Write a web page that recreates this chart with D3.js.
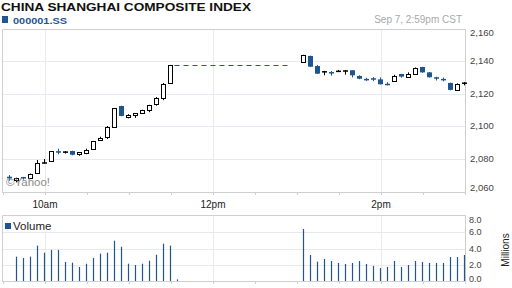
<!DOCTYPE html>
<html>
<head>
<meta charset="utf-8">
<script src="https://cdn.jsdelivr.net/npm/d3@7"></script>
<style>
  html, body { margin: 0; padding: 0; background: #fff; }
  svg { display: block; font-family: "Liberation Sans", Arial, sans-serif; }
</style>
</head>
<body>
<div id="chart"></div>
<script>
// 5-minute candles, China Shanghai Composite, Sep 7
var candleTimes = [
  "09:35","09:40","09:45","09:50","09:55","10:00","10:05","10:10","10:15","10:20","10:25","10:30",
  "10:35","10:40","10:45","10:50","10:55","11:00","11:05","11:10","11:15","11:20","11:25","11:30",
  "13:05","13:10","13:15","13:20","13:25","13:30","13:35","13:40","13:45","13:50","13:55","14:00",
  "14:05","14:10","14:15","14:20","14:25","14:30","14:35","14:40","14:45","14:50","14:55","15:00"
];
var opens = [
  2068.8, 2066.6, 2068.6, 2068.0, 2070.9, 2077.7, 2078.3, 2084.5, 2084.4, 2084.6, 2082.6, 2083.6,
  2085.7, 2091.2, 2093.0, 2099.0, 2112.3, 2105.1, 2106.3, 2107.8, 2109.7, 2113.4, 2117.0, 2126.3,
  2139.2, 2143.1, 2136.9, 2133.8, 2133.2, 2134.1, 2134.3, 2134.3, 2130.8, 2129.0, 2129.4, 2128.7,
  2126.0, 2127.5, 2132.0, 2130.5, 2132.2, 2136.3, 2133.0, 2130.0, 2129.0, 2126.5, 2122.3, 2126.8
];
var highs = [
  2069.8, 2068.2, 2068.7, 2070.7, 2079.1, 2079.7, 2084.6, 2086.0, 2084.5, 2084.8, 2083.9, 2086.0,
  2090.8, 2093.4, 2100.0, 2111.0, 2112.5, 2107.3, 2108.0, 2110.0, 2113.0, 2117.8, 2126.5, 2137.4,
  2143.8, 2143.3, 2137.5, 2133.9, 2133.8, 2134.5, 2134.4, 2134.4, 2131.2, 2129.7, 2130.1, 2129.9,
  2127.0, 2131.5, 2132.1, 2133.0, 2136.0, 2136.4, 2133.2, 2130.3, 2129.8, 2126.7, 2126.2, 2127.0
];
var lows = [
  2066.3, 2065.3, 2067.0, 2067.9, 2070.6, 2076.9, 2078.0, 2082.6, 2083.0, 2082.0, 2081.7, 2082.6,
  2085.5, 2091.0, 2092.0, 2098.8, 2106.0, 2104.7, 2105.0, 2107.6, 2108.5, 2112.5, 2115.9, 2126.0,
  2139.0, 2136.3, 2132.0, 2131.2, 2131.0, 2133.2, 2131.6, 2129.9, 2128.8, 2127.8, 2127.6, 2125.5,
  2125.0, 2127.3, 2129.7, 2130.2, 2131.5, 2132.8, 2129.8, 2128.0, 2127.5, 2122.0, 2122.0, 2125.0
];
var closes = [
  2067.8, 2068.0, 2067.9, 2070.3, 2077.0, 2077.1, 2084.4, 2084.1, 2084.2, 2082.3, 2083.8, 2085.2,
  2090.6, 2092.6, 2099.2, 2110.9, 2106.2, 2106.6, 2107.8, 2109.8, 2112.7, 2117.0, 2125.7, 2137.3,
  2143.7, 2136.5, 2132.2, 2133.1, 2132.9, 2133.4, 2133.6, 2131.2, 2129.1, 2128.8, 2128.7, 2125.7,
  2125.6, 2130.8, 2130.4, 2132.2, 2135.9, 2133.0, 2130.0, 2129.6, 2128.5, 2122.2, 2126.0, 2126.2
];

// volume in millions
var volumeTimes = [
  "09:40","09:45","09:50","09:55","10:00","10:05","10:10","10:15","10:20","10:25","10:30","10:35",
  "10:40","10:45","10:50","10:55","11:00","11:05","11:10","11:15","11:20","11:25","11:30","11:35",
  "13:05","13:10","13:15","13:20","13:25","13:30","13:35","13:40","13:45","13:50","13:55","14:00",
  "14:05","14:10","14:15","14:20","14:25","14:30","14:35","14:40","14:45","14:50","14:55","15:00"
];
var volumes = [
  3.00, 2.83, 3.00, 4.35, 3.49, 3.82, 3.82, 2.34, 2.26, 1.72, 2.13, 2.83,
  3.37, 3.49, 4.96, 4.22, 2.13, 1.97, 2.13, 2.50, 3.24, 4.59, 4.35, 0.20,
  6.40, 3.20, 2.38, 2.71, 2.46, 2.22, 2.09, 2.22, 2.46, 2.09, 1.85, 1.60,
  1.72, 2.46, 1.72, 1.97, 2.46, 2.34, 2.22, 2.22, 2.22, 2.95, 2.95, 3.20
];

var priceTicks = [2060, 2080, 2100, 2120, 2140, 2160];
var volumeTicks = [0, 2, 4, 6, 8];
var timeLabels = ["10am", "12pm", "2pm"];
var timeLabelTimes = ["10:00", "12:00", "14:00"];
var sessionStart = "09:30";
var sessionEnd = "15:00";
var lunchBreakEnd = "12:55";

var title = "CHINA SHANGHAI COMPOSITE INDEX";
var symbol = "000001.SS";
var stamp = "Sep 7, 2:59pm CST";

(function(){

    var width = 512, height = 288;
    var blue = "#1f5590";
    var gridc = "#e6eaef";
    var borderc = "#cfcfcf";

    var parseT = d3.timeParse("%H:%M");
    var fmtPrice = d3.format(",");
    var fmtVol = d3.format(".1f");

    var svg = d3.select("#chart").append("svg")
        .attr("width", width)
        .attr("height", height);

    // scales
    var x = d3.scaleTime()
        .domain([parseT(sessionStart), parseT(sessionEnd)])
        .range([3, 465]);
    var y = d3.scaleLinear().domain([2060, 2160]).range([191, 28.5]);
    var yv = d3.scaleLinear().domain([0, 8]).range([281, 216]);

    var px = function(t) { return Math.round(x(parseT(t)) - 1) + 0.5; };

    // header
    svg.append("text")
        .attr("x", 1).attr("y", 11)
        .attr("font-size", 11).attr("font-weight", "bold")
        .attr("textLength", 250).attr("lengthAdjust", "spacingAndGlyphs")
        .attr("fill", "#111")
        .text(title);
    svg.append("rect")
        .attr("x", 2).attr("y", 16).attr("width", 6).attr("height", 7)
        .attr("fill", blue);
    svg.append("text")
        .attr("x", 13).attr("y", 23.5)
        .attr("font-size", 9.5).attr("font-weight", "bold")
        .attr("textLength", 54).attr("lengthAdjust", "spacingAndGlyphs")
        .attr("fill", blue)
        .text(symbol);
    svg.append("text")
        .attr("x", 462).attr("y", 22.5)
        .attr("text-anchor", "end")
        .attr("font-size", 10).attr("fill", "#a8a8a8")
        .text(stamp);

    // price panel grid
    var pg = svg.append("g");
    pg.selectAll("line.h")
        .data(priceTicks.slice(1, -1))
        .enter().append("line")
        .attr("x1", 2).attr("x2", 465)
        .attr("y1", function(d) { return Math.round(y(d)) + 0.5; })
        .attr("y2", function(d) { return Math.round(y(d)) + 0.5; })
        .attr("stroke", gridc);
    pg.selectAll("line.v")
        .data(timeLabelTimes)
        .enter().append("line")
        .attr("x1", function(d) { return Math.round(x(parseT(d))) + 0.5; })
        .attr("x2", function(d) { return Math.round(x(parseT(d))) + 0.5; })
        .attr("y1", 29).attr("y2", 192)
        .attr("stroke", gridc);

    // frame
    pg.append("path")
        .attr("d", "M2.5,192V29.5H465.5V192")
        .attr("fill", "none").attr("stroke", borderc);

    // bottom time axis
    var axisB = d3.axisBottom(x)
        .ticks(d3.timeMinute.every(30))
        .tickSize(3)
        .tickFormat("");
    svg.append("g")
        .attr("transform", "translate(0,192)")
        .call(axisB)
        .call(function(g) {
            g.select(".domain").attr("stroke", borderc).attr("d", "M2,0.5H466");
            g.selectAll(".tick line").attr("stroke", borderc);
        });

    svg.selectAll("text.tl")
        .data(timeLabels)
        .enter().append("text")
        .attr("x", function(d, i) { return x(parseT(timeLabelTimes[i])); })
        .attr("y", 208)
        .attr("text-anchor", "middle")
        .attr("font-size", 10).attr("fill", "#222")
        .text(function(d) { return d; });

    // price labels
    svg.selectAll("text.pl")
        .data(priceTicks)
        .enter().append("text")
        .attr("x", 470)
        .attr("y", function(d) { return Math.max(33, Math.min(187.5, y(d))); })
        .attr("dy", "0.35em")
        .attr("font-size", 9.5).attr("fill", "#444")
        .text(function(d) { return fmtPrice(d); });

    // candles
    var candles = candleTimes.map(function(t, i) {
        return {
            t: t, o: opens[i], h: highs[i], l: lows[i], c: closes[i],
            prev: i > 0 ? closes[i - 1] : opens[i]
        };
    });

    var cg = svg.append("g");
    var cand = cg.selectAll("g.c")
        .data(candles)
        .enter().append("g");

    cand.append("line")
        .attr("x1", function(d) { return px(d.t); })
        .attr("x2", function(d) { return px(d.t); })
        .attr("y1", function(d) { return y(d.h); })
        .attr("y2", function(d) { return y(d.l); })
        .attr("stroke", function(d) { return d.c >= d.prev ? "#000" : blue; })
        .attr("stroke-width", 1);

    cand.append("rect")
        .attr("x", function(d) { return d.c > d.o ? px(d.t) - 2 : px(d.t) - 2.5; })
        .attr("width", function(d) { return d.c > d.o ? 4 : 5; })
        .attr("y", function(d) {
            var top = y(Math.max(d.o, d.c));
            return d.c > d.o ? Math.round(top) + 0.5 : top;
        })
        .attr("height", function(d) {
            var hgt = Math.abs(y(d.o) - y(d.c));
            return d.c > d.o ? Math.max(1, Math.round(hgt)) : Math.max(1.5, hgt);
        })
        .attr("fill", function(d) {
            if (d.c > d.o) return "#fff";
            return d.c >= d.prev ? "#000" : blue;
        })
        .attr("stroke", function(d) { return d.c > d.o ? (d.c >= d.prev ? "#000" : blue) : "none"; })
        .attr("stroke-width", 1);

    // lunch-break dashed line at the morning close
    var amLast = candles[23];
    cg.append("line")
        .attr("x1", px(amLast.t) + 4)
        .attr("x2", x(parseT(lunchBreakEnd)))
        .attr("y1", Math.round(y(amLast.c)) + 0.5)
        .attr("y2", Math.round(y(amLast.c)) + 0.5)
        .attr("stroke", blue)
        .attr("stroke-dasharray", "5,4");

    // watermark
    svg.append("text")
        .attr("x", 6).attr("y", 186)
        .attr("font-size", 11.5).attr("fill", "#777")
        .attr("opacity", 0.85)
        .text("\u00a9Yahoo!");

    // volume panel
    var vg = svg.append("g");
    vg.selectAll("line.h")
        .data(volumeTicks.slice(1, -1))
        .enter().append("line")
        .attr("x1", 2).attr("x2", 465)
        .attr("y1", function(d) { return Math.round(yv(d)) + 0.5; })
        .attr("y2", function(d) { return Math.round(yv(d)) + 0.5; })
        .attr("stroke", gridc);
    vg.selectAll("line.v")
        .data(timeLabelTimes)
        .enter().append("line")
        .attr("x1", function(d) { return Math.round(x(parseT(d))) + 0.5; })
        .attr("x2", function(d) { return Math.round(x(parseT(d))) + 0.5; })
        .attr("y1", 215).attr("y2", 281)
        .attr("stroke", gridc);
    vg.append("path")
        .attr("d", "M2.5,281V215.5H465.5V281")
        .attr("fill", "none").attr("stroke", borderc);

    svg.append("g")
        .attr("transform", "translate(0,281)")
        .call(axisB)
        .call(function(g) {
            g.select(".domain").attr("stroke", borderc).attr("d", "M2,0.5H466");
            g.selectAll(".tick line").attr("stroke", borderc);
        });

    vg.selectAll("line.vol")
        .data(volumes)
        .enter().append("line")
        .attr("x1", function(d, i) { return px(volumeTimes[i]); })
        .attr("x2", function(d, i) { return px(volumeTimes[i]); })
        .attr("y1", yv(0))
        .attr("y2", function(d) { return yv(d); })
        .attr("stroke", blue)
        .attr("stroke-width", 1.2);

    // legend
    vg.append("rect")
        .attr("x", 3).attr("y", 216).attr("width", 52).attr("height", 16)
        .attr("fill", "#fff");
    vg.append("rect")
        .attr("x", 5).attr("y", 223).attr("width", 6).attr("height", 6)
        .attr("fill", blue);
    vg.append("text")
        .attr("x", 13).attr("y", 230)
        .attr("font-size", 11.5).attr("fill", "#222")
        .text("Volume");

    // volume labels
    svg.selectAll("text.vl")
        .data(volumeTicks)
        .enter().append("text")
        .attr("x", 469)
        .attr("y", function(d) { return Math.max(219.5, Math.min(278.5, yv(d))); })
        .attr("dy", "0.35em")
        .attr("font-size", 9).attr("fill", "#444")
        .text(function(d) { return fmtVol(d); });

    svg.append("text")
        .attr("transform", "translate(509,250) rotate(-90)")
        .attr("text-anchor", "middle")
        .attr("font-size", 10).attr("fill", "#222")
        .text("Millions");

})();
</script>
</body>
</html>
